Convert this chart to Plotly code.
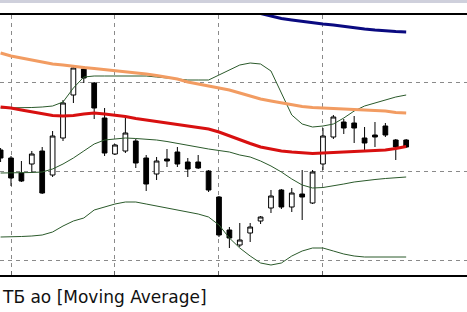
import plotly.graph_objects as go

# bar index (one candle per bar)
bars = list(range(40))

open_ = [1.50, 1.42, 1.27, 1.36, 1.49, 1.25, 1.62, 2.05, 2.31, 2.17,
         1.82, 1.46, 1.49, 1.59, 1.42, 1.26, 1.41, 1.48, 1.38, 1.38,
         1.29, 1.03, 0.70, 0.55, 0.67, 0.79, 0.92, 1.10, 0.93, 1.06,
         0.97, 1.36, 1.63, 1.78, 1.77, 1.62, 1.65, 1.74, 1.60, 1.60]
high = [1.52, 1.44, 1.39, 1.49, 1.53, 1.69, 2.00, 2.33, 2.34, 2.18,
        1.92, 1.56, 1.82, 1.61, 1.45, 1.43, 1.51, 1.53, 1.42, 1.45,
        1.30, 1.04, 0.73, 0.77, 0.77, 0.84, 1.10, 1.11, 1.12, 1.30,
        1.30, 1.72, 1.85, 1.81, 1.84, 1.73, 1.78, 1.77, 1.61, 1.61]
low = [1.38, 1.14, 1.18, 1.27, 1.06, 1.23, 1.59, 1.97, 2.17, 1.81,
       1.44, 1.45, 1.47, 1.32, 1.09, 1.20, 1.33, 1.33, 1.23, 1.31,
       1.08, 0.63, 0.52, 0.53, 0.58, 0.76, 0.87, 0.91, 0.88, 0.80,
       0.96, 1.30, 1.61, 1.66, 1.57, 1.48, 1.53, 1.63, 1.40, 1.52]
close = [1.42, 1.22, 1.19, 1.46, 1.07, 1.64, 1.97, 2.32, 2.22, 1.92,
         1.47, 1.55, 1.67, 1.37, 1.16, 1.39, 1.39, 1.36, 1.31, 1.32,
         1.10, 0.65, 0.62, 0.60, 0.73, 0.83, 1.04, 0.93, 1.07, 1.03,
         1.28, 1.64, 1.83, 1.72, 1.72, 1.57, 1.63, 1.65, 1.53, 1.53]

# long moving average (navy), only the visible tail
ma_long_bars = list(range(23, 40))
ma_long = [2.915, 2.89, 2.86, 2.835, 2.815, 2.80, 2.785, 2.77, 2.76, 2.75,
           2.735, 2.725, 2.71, 2.70, 2.69, 2.685, 2.68]

ma_orange = [2.47, 2.44, 2.42, 2.40, 2.38, 2.36, 2.35, 2.335, 2.325, 2.315,
             2.305, 2.295, 2.285, 2.275, 2.26, 2.245, 2.23, 2.21, 2.18, 2.16,
             2.145, 2.125, 2.10, 2.07, 2.04, 2.01, 1.99, 1.97, 1.95, 1.935,
             1.925, 1.92, 1.915, 1.91, 1.905, 1.90, 1.895, 1.89, 1.875, 1.87]

ma_red = [1.93, 1.92, 1.90, 1.88, 1.86, 1.845, 1.84, 1.845, 1.86, 1.87,
          1.86, 1.85, 1.835, 1.815, 1.80, 1.785, 1.77, 1.76, 1.745, 1.73,
          1.71, 1.68, 1.64, 1.60, 1.565, 1.53, 1.51, 1.49, 1.48, 1.47,
          1.465, 1.47, 1.475, 1.48, 1.485, 1.49, 1.495, 1.50, 1.515, 1.535]

bb_upper = [1.92, 1.92, 1.92, 1.925, 1.93, 1.94, 1.98, 2.12, 2.23, 2.24,
            2.24, 2.24, 2.24, 2.24, 2.24, 2.23, 2.22, 2.21, 2.20, 2.20,
            2.20, 2.25, 2.30, 2.35, 2.37, 2.36, 2.29, 2.07, 1.85, 1.76,
            1.73, 1.74, 1.76, 1.82, 1.89, 1.94, 1.97, 2.00, 2.03, 2.05]

bb_middle = [1.27, 1.27, 1.27, 1.275, 1.28, 1.31, 1.36, 1.42, 1.49, 1.56,
             1.60, 1.61, 1.62, 1.615, 1.61, 1.60, 1.585, 1.565, 1.55, 1.53,
             1.51, 1.495, 1.48, 1.45, 1.43, 1.39, 1.34, 1.28, 1.21, 1.15,
             1.12, 1.125, 1.14, 1.16, 1.18, 1.195, 1.205, 1.215, 1.225, 1.23]

bb_lower = [0.63, 0.63, 0.635, 0.64, 0.65, 0.68, 0.74, 0.79, 0.82, 0.90,
            0.93, 0.96, 0.98, 0.98, 0.96, 0.94, 0.92, 0.90, 0.88, 0.86,
            0.83, 0.75, 0.62, 0.52, 0.44, 0.37, 0.35, 0.37, 0.44, 0.49,
            0.52, 0.52, 0.49, 0.46, 0.44, 0.43, 0.43, 0.43, 0.43, 0.43]

grid_bars = [1, 11, 21, 31]
grid_prices = [0.40, 1.29, 2.18]
caption = "ТБ ао [Moving Average]"

fig = go.Figure()
fig.add_trace(go.Candlestick(
    x=bars, open=open_, high=high, low=low, close=close,
    increasing=dict(line=dict(color="black", width=1), fillcolor="white"),
    decreasing=dict(line=dict(color="black", width=1), fillcolor="black"),
    whiskerwidth=0, showlegend=False, hoverinfo="skip"))

green = "#2b5a2b"
for ys in (bb_upper, bb_middle, bb_lower):
    fig.add_trace(go.Scatter(x=bars, y=ys, mode="lines",
                             line=dict(color=green, width=1), showlegend=False))
fig.add_trace(go.Scatter(x=bars, y=ma_orange, mode="lines",
                         line=dict(color="#f29c62", width=3), showlegend=False))
fig.add_trace(go.Scatter(x=bars, y=ma_red, mode="lines",
                         line=dict(color="#d81010", width=3), showlegend=False))
fig.add_trace(go.Scatter(x=ma_long_bars, y=ma_long, mode="lines",
                         line=dict(color="#0a0a80", width=3), showlegend=False))

fig.update_layout(
    width=467, height=312,
    margin=dict(l=0, r=0, t=15, b=37),
    paper_bgcolor="white", plot_bgcolor="white",
    boxgap=0.35,
    showlegend=False,
    xaxis=dict(range=[-0.058, 44.85], rangeslider=dict(visible=False),
               tickmode="array", tickvals=grid_bars, showticklabels=False,
               showgrid=True, gridcolor="#8a8a8a", griddash="4px,4px", gridwidth=1,
               ticks="inside", ticklen=4, tickcolor="#666", tickwidth=1,
               zeroline=False, showline=True, linecolor="black", linewidth=2,
               mirror=True, fixedrange=True),
    yaxis=dict(range=[0.25, 2.85], tickmode="array", tickvals=grid_prices,
               showticklabels=False, showgrid=True, gridcolor="#8a8a8a",
               griddash="4px,4px", gridwidth=1, zeroline=False, showline=False,
               ticks="", fixedrange=True),
    shapes=[dict(type="rect", xref="paper", yref="paper", x0=0, x1=1,
                 y0=1 + 12 / 260, y1=1 + 15 / 260, fillcolor="#cfd0dc",
                 line=dict(width=0), layer="below")],
    annotations=[dict(text=caption, xref="paper", yref="paper", x=0, y=-0.0846,
                      xanchor="left", yanchor="middle", showarrow=False,
                      font=dict(family="DejaVu Sans", size=17, color="#111"))],
)

fig.write_html("out.html")
